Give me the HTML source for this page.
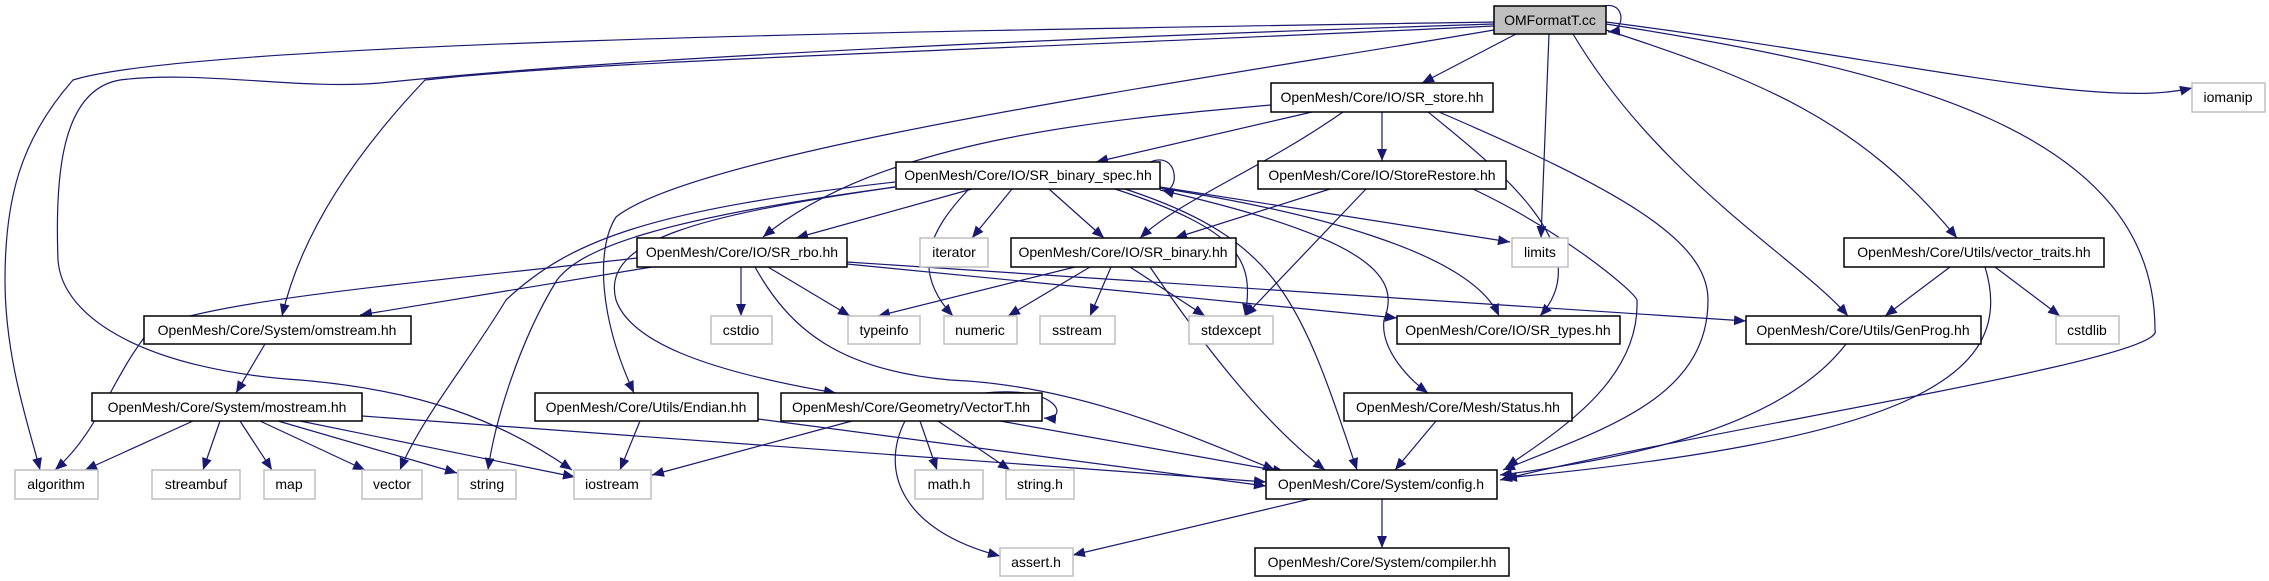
<!DOCTYPE html>
<html><head><meta charset="utf-8"><style>
html,body{margin:0;padding:0;background:#fff;}
svg{display:block;}
text{font-family:"Liberation Sans",sans-serif;font-size:14px;fill:#000;}
</style></head><body>
<svg width="2269" height="581" viewBox="0 0 2269 581" xmlns="http://www.w3.org/2000/svg">
<defs>
<marker id="a" markerUnits="userSpaceOnUse" markerWidth="14" markerHeight="12" refX="12" refY="5" orient="auto">
<path d="M0,0 L12,5 L0,10 z" fill="#191970"/>
</marker>
</defs>
<g fill="none" stroke="#191970" stroke-width="1.2" marker-end="url(#a)">
<path d="M1598,8 C1625,-4 1628,30 1608,32"/>
<path d="M1516,34 L1422,83"/>
<path d="M1549,34 L1541,238"/>
<path d="M1573,34 C1660,180 1800,260 1848,316"/>
<path d="M1606,30 C1760,80 1860,120 1957,238"/>
<path d="M1606,24 C1900,70 2155,130 2155,330 C2170,360 1700,430 1500,480"/>
<path d="M1606,22 C1900,60 2100,110 2192,88"/>
<path d="M1494,22 C1000,30 200,40 73,80 C20,140 5,200 5,280 C5,360 30,430 40,470"/>
<path d="M1494,24 C1000,40 600,60 380,83 C300,90 200,70 120,80 C60,90 55,180 58,260 C62,320 150,370 300,380 C420,390 500,420 572,470"/>
<path d="M1494,26 C1000,50 600,60 425,80 C330,180 295,260 282,316"/>
<path d="M1494,30 C1200,80 700,150 616,217 C595,250 600,320 634,393"/>
<path d="M1271,105 C1100,120 880,140 763,237"/>
<path d="M1312,112 L1096,162"/>
<path d="M1343,112 C1260,170 1180,200 1140,238"/>
<path d="M1382,112 L1382,161"/>
<path d="M1428,112 C1500,170 1600,250 1540,316"/>
<path d="M1439,112 C1620,190 1708,240 1708,300 C1708,400 1600,430 1503,470"/>
<path d="M1330,189 L1175,238"/>
<path d="M1366,189 L1245,316"/>
<path d="M1473,189 C1560,230 1633,290 1637,300 C1640,380 1560,430 1506,467"/>
<path d="M1150,162 C1180,150 1180,195 1162,190"/>
<path d="M972,189 L796,238"/>
<path d="M1012,189 L972,238"/>
<path d="M1049,189 L1104,238"/>
<path d="M968,190 C930,230 910,270 953,316"/>
<path d="M1160,187 L1510,242"/>
<path d="M1160,188 C1300,210 1470,250 1499,316"/>
<path d="M1115,189 C1240,230 1255,260 1245,316"/>
<path d="M1125,189 C1280,240 1300,300 1357,470"/>
<path d="M1160,190 C1380,240 1400,280 1384,320 C1380,350 1410,380 1428,393"/>
<path d="M895,187 C700,215 600,240 616,300 C630,340 700,370 836,393"/>
<path d="M895,182 C650,210 570,240 506,300 C470,360 420,420 400,470"/>
<path d="M895,187 C650,220 580,250 557,280 C520,340 495,420 488,470"/>
<path d="M652,267 L360,315"/>
<path d="M637,258 C450,280 200,300 150,330 C110,380 100,430 55,470"/>
<path d="M741,267 L741,316"/>
<path d="M768,267 L850,316"/>
<path d="M755,267 C790,330 840,370 950,380 C1080,385 1200,440 1275,470"/>
<path d="M847,264 L1397,318"/>
<path d="M847,262 L1746,321"/>
<path d="M1075,267 L878,316"/>
<path d="M1090,267 L1008,316"/>
<path d="M1111,267 L1090,316"/>
<path d="M1130,267 L1205,316"/>
<path d="M1150,267 C1200,340 1260,420 1325,470"/>
<path d="M265,344 L236,393"/>
<path d="M193,421 L85,470"/>
<path d="M220,421 L203,470"/>
<path d="M240,421 L272,470"/>
<path d="M260,421 L365,470"/>
<path d="M278,421 L457,473"/>
<path d="M300,421 L575,477"/>
<path d="M362,416 L1266,482"/>
<path d="M640,421 L620,470"/>
<path d="M758,419 L1266,486"/>
<path d="M985,393 C1060,385 1070,420 1044,418"/>
<path d="M852,421 L652,475"/>
<path d="M920,421 L937,470"/>
<path d="M938,421 L1010,470"/>
<path d="M905,421 C880,470 900,530 1000,556"/>
<path d="M1000,421 L1285,472"/>
<path d="M1310,499 L1073,555"/>
<path d="M1382,499 L1382,548"/>
<path d="M1436,421 L1395,470"/>
<path d="M1846,344 C1780,430 1620,460 1500,475"/>
<path d="M1950,267 L1885,316"/>
<path d="M1995,267 L2060,316"/>
<path d="M1985,267 C2020,380 1900,440 1505,478"/>
</g>
<g stroke-width="1.5">
<rect x="1494" y="6" width="112" height="28" fill="#bfbfbf" stroke="#000"/>
<g fill="#fff" stroke="#000">
<rect x="1271" y="83" width="222" height="29"/>
<rect x="896" y="162" width="264" height="27"/>
<rect x="1258" y="161" width="248" height="28"/>
<rect x="637" y="238" width="210" height="29"/>
<rect x="1011" y="238" width="225" height="29"/>
<rect x="1844" y="238" width="260" height="29"/>
<rect x="144" y="316" width="267" height="28"/>
<rect x="1397" y="316" width="223" height="28"/>
<rect x="1746" y="316" width="235" height="28"/>
<rect x="92" y="393" width="270" height="28"/>
<rect x="535" y="393" width="223" height="28"/>
<rect x="781" y="393" width="261" height="28"/>
<rect x="1344" y="393" width="228" height="28"/>
<rect x="1266" y="470" width="231" height="29"/>
<rect x="1255" y="548" width="254" height="28"/>
</g>
<g fill="#fff" stroke="#bfbfbf">
<rect x="2192" y="83" width="73" height="29"/>
<rect x="920" y="238" width="68" height="29"/>
<rect x="1512" y="238" width="56" height="29"/>
<rect x="711" y="316" width="61" height="28"/>
<rect x="848" y="316" width="72" height="28"/>
<rect x="944" y="316" width="73" height="28"/>
<rect x="1040" y="316" width="75" height="28"/>
<rect x="1189" y="316" width="84" height="28"/>
<rect x="2056" y="316" width="63" height="28"/>
<rect x="15" y="470" width="83" height="29"/>
<rect x="152" y="470" width="88" height="29"/>
<rect x="264" y="470" width="51" height="29"/>
<rect x="362" y="470" width="60" height="29"/>
<rect x="458" y="470" width="58" height="29"/>
<rect x="574" y="470" width="77" height="29"/>
<rect x="915" y="470" width="68" height="29"/>
<rect x="1006" y="470" width="68" height="29"/>
<rect x="1000" y="548" width="73" height="28"/>
</g>
</g>
<g text-anchor="middle">
<text x="1550" y="25">OMFormatT.cc</text>
<text x="1382" y="102">OpenMesh/Core/IO/SR_store.hh</text>
<text x="1028" y="180">OpenMesh/Core/IO/SR_binary_spec.hh</text>
<text x="1382" y="180">OpenMesh/Core/IO/StoreRestore.hh</text>
<text x="742" y="257">OpenMesh/Core/IO/SR_rbo.hh</text>
<text x="1123" y="257">OpenMesh/Core/IO/SR_binary.hh</text>
<text x="1974" y="257">OpenMesh/Core/Utils/vector_traits.hh</text>
<text x="277" y="335">OpenMesh/Core/System/omstream.hh</text>
<text x="1508" y="335">OpenMesh/Core/IO/SR_types.hh</text>
<text x="1863" y="335">OpenMesh/Core/Utils/GenProg.hh</text>
<text x="227" y="412">OpenMesh/Core/System/mostream.hh</text>
<text x="646" y="412">OpenMesh/Core/Utils/Endian.hh</text>
<text x="911" y="412">OpenMesh/Core/Geometry/VectorT.hh</text>
<text x="1458" y="412">OpenMesh/Core/Mesh/Status.hh</text>
<text x="1381" y="489">OpenMesh/Core/System/config.h</text>
<text x="1382" y="567">OpenMesh/Core/System/compiler.hh</text>
<text x="2228" y="102">iomanip</text>
<text x="954" y="257">iterator</text>
<text x="1540" y="257">limits</text>
<text x="741" y="335">cstdio</text>
<text x="884" y="335">typeinfo</text>
<text x="980" y="335">numeric</text>
<text x="1077" y="335">sstream</text>
<text x="1231" y="335">stdexcept</text>
<text x="2087" y="335">cstdlib</text>
<text x="56" y="489">algorithm</text>
<text x="196" y="489">streambuf</text>
<text x="289" y="489">map</text>
<text x="392" y="489">vector</text>
<text x="487" y="489">string</text>
<text x="612" y="489">iostream</text>
<text x="949" y="489">math.h</text>
<text x="1040" y="489">string.h</text>
<text x="1036" y="567">assert.h</text>
</g>
</svg>
</body></html>
